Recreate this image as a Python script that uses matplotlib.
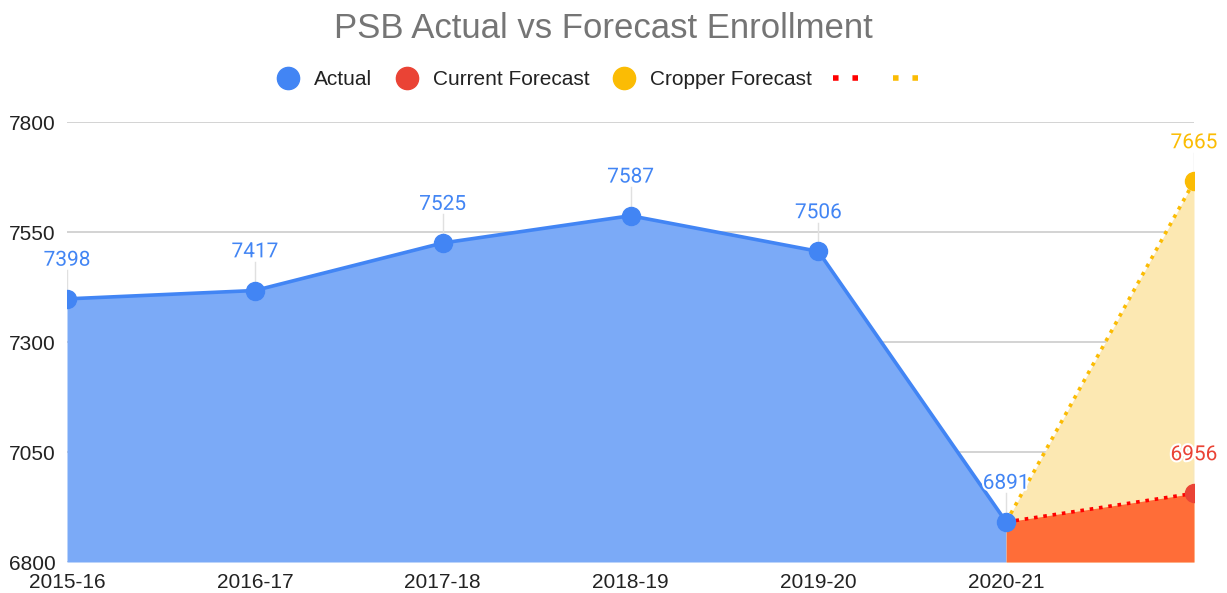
import matplotlib
matplotlib.use("Agg")
from matplotlib import pyplot as plt
from matplotlib.lines import Line2D
import matplotlib.patheffects as pe

years = ["2015-16", "2016-17", "2017-18", "2018-19", "2019-20", "2020-21", ""]
actual = [7398, 7417, 7525, 7587, 7506, 6891]
current_forecast = [6891, 6956]
cropper_forecast = [6891, 7665]

BLUE = "#4285F4"
RED = "#EA4335"
YELLOW = "#FBBC04"
BASE = 6800

fig = plt.figure(figsize=(12.27, 5.93), dpi=100)
ax = fig.add_axes([67 / 1227, 1 - 562 / 593, (1194 - 67) / 1227, (562 - 122) / 593])

xa = list(range(len(actual)))
xf = [len(actual) - 1, len(actual)]

# areas
ax.fill_between(xa, actual, BASE, color="#7BAAF7", lw=0, zorder=1)
ax.fill_between(xf, cropper_forecast, BASE, color="#FCE8B2", lw=0, zorder=1)
ax.fill_between(xf, current_forecast, BASE, color="#FF6D38", lw=0, zorder=2)

# lines
ax.plot(xa, actual, color=BLUE, lw=2.6, zorder=4)
ax.plot(xf, cropper_forecast, color=YELLOW, lw=2.6, ls=(0, (1, 1.6)), zorder=4)
ax.plot(xf, current_forecast, color="#FF0000", lw=2.6, ls=(0, (1, 1.6)), zorder=4)

# markers
ax.plot(xa, actual, "o", color=BLUE, ms=13, zorder=6)
ax.plot(xf[1], current_forecast[1], "o", color=RED, ms=13, zorder=5)
ax.plot(xf[1], cropper_forecast[1], "o", color=YELLOW, ms=13, zorder=5)

halo = [pe.withStroke(linewidth=3, foreground="white")]

def label(x, y, txt, color):
    ax.plot([x, x], [y, y + 65], color="#e0e0e0", lw=1, zorder=3)
    ax.annotate(txt, (x, y), xytext=(0, 21), textcoords="offset points",
                ha="center", va="bottom", color=color, fontsize=15,
                family="Roboto", path_effects=halo, annotation_clip=False, zorder=8)

for x, v in zip(xa, actual):
    label(x, v, str(v), BLUE)
label(xf[1], current_forecast[1], str(current_forecast[1]), RED)
label(xf[1], cropper_forecast[1], str(cropper_forecast[1]), YELLOW)

ax.set_xlim(0, len(years) - 1)
ax.set_ylim(6800, 7800)
ax.set_yticks([6800, 7050, 7300, 7550, 7800])
ax.set_xticks(range(len(years)))
ax.set_xticklabels(years)
ax.grid(axis="y", color="#cccccc", lw=1.2, zorder=0)
ax.set_axisbelow(True)
for s in ax.spines.values():
    s.set_visible(False)
ax.tick_params(length=0, labelsize=15, labelcolor="#222222")
ax.tick_params(axis="y", pad=8)
ax.tick_params(axis="x", pad=8)
for t in ax.get_xticklabels() + ax.get_yticklabels():
    t.set_family("Liberation Sans")

fig.text(0.492, 0.952, "PSB Actual vs Forecast Enrollment", ha="center", va="center",
         fontsize=25, color="#757575", family="Liberation Sans")

handles = [
    Line2D([], [], marker="o", ls="", color=BLUE, ms=16),
    Line2D([], [], marker="o", ls="", color=RED, ms=16),
    Line2D([], [], marker="o", ls="", color=YELLOW, ms=16),
    Line2D([], [], color="#FF0000", lw=4, ls=(0, (1, 2.5))),
    Line2D([], [], color=YELLOW, lw=4, ls=(0, (1, 2.5))),
]
leg = fig.legend(handles, ["Actual", "Current Forecast", "Cropper Forecast", "", ""],
                 loc="center", bbox_to_anchor=(0.492, 0.866), ncol=5, frameon=False,
                 prop={"family": "Liberation Sans", "size": 15}, handlelength=1.3,
                 handletextpad=0.6, columnspacing=1.0)
for t in leg.get_texts():
    t.set_color("#222222")

fig.savefig("out.png", dpi=100)
